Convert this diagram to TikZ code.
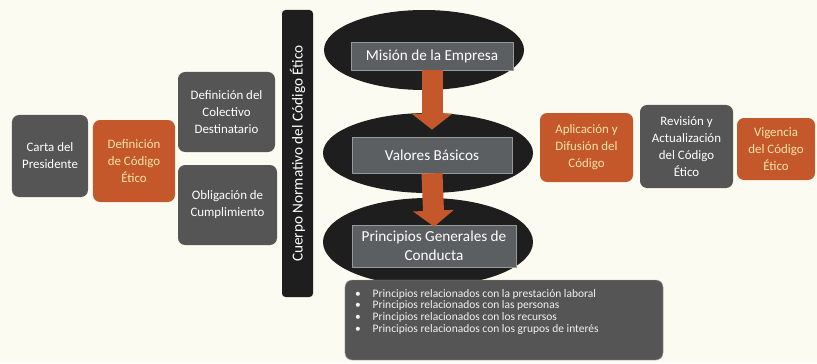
\documentclass[tikz,border=0pt]{standalone}
\usepackage{fontspec}
\setmainfont{Carlito}
\usetikzlibrary{shapes.geometric,arrows.meta}
\definecolor{fondo}{HTML}{FCFBF1}
\definecolor{gris}{HTML}{555555}
\definecolor{naranja}{HTML}{C4582A}
\definecolor{crema}{HTML}{F6E4A8}
\definecolor{negro}{HTML}{1E1E1E}
\definecolor{grisrect}{HTML}{5C5F61}
\begin{document}
\begin{tikzpicture}[x=0.03cm, y=-0.03cm, line join=round,
	caja/.style={rounded corners=6pt, align=center, inner sep=2pt, font=\fontsize{11}{14.5}\selectfont},
	cgris/.style={caja, fill=gris, text=white},
	cnar/.style={caja, fill=naranja, text=crema},
	elipse/.style={ellipse, fill=negro, inner sep=0pt},
	rect/.style={fill=grisrect, draw=gray!80, line width=0.6pt, text=white, align=center, font=\fontsize{13}{16}\selectfont},
	flecha/.style={draw=naranja, line width=0.63cm, -{Triangle[width=1.2cm, length=0.48cm]}}]
	\fill[fondo] (0,0) rectangle (817,363);
	\useasboundingbox (0,0) rectangle (817,363);
	% lado izquierdo
	\node[cgris, minimum width=2.28cm, minimum height=2.46cm] (carta) at (50,156) {Carta del\\Presidente};
	\node[cnar, minimum width=2.46cm, minimum height=2.46cm] (defcod) at (134,161) {Definición\\de Código\\Ético};
	\node[cgris, minimum width=2.91cm, minimum height=2.4cm] (colectivo) at (226.5,112) {Definición del\\Colectivo\\Destinatario};
	\node[cgris, minimum width=2.97cm, minimum height=2.4cm] (obligacion) at (227.5,205) {Obligación de\\Cumplimiento};
	\node[fill=negro, rounded corners=3pt, rotate=90, minimum width=8.61cm, minimum height=0.93cm, text=white, font=\fontsize{13}{15}\selectfont] (cuerpo) at (297.5,153.5) {Cuerpo Normativo del Código Ético};
	% centro
	\node[elipse, minimum width=6cm, minimum height=2.4cm] (e1) at (424,50) {};
	\node[elipse, minimum width=6.3cm, minimum height=2.4cm] (e2) at (428,153) {};
	\node[elipse, minimum width=6.3cm, minimum height=2.64cm] (e3) at (428,242) {};
	\node[rect, minimum width=4.86cm, minimum height=0.84cm] (mision) at (432,56) {Misión de la Empresa};
	\node[rect, minimum width=4.8cm, minimum height=1.08cm] (valores) at (432,155) {Valores Básicos};
	\node[rect, minimum width=4.92cm, minimum height=1.26cm] (principios) at (434,246) {Principios Generales de\\Conducta};
	\draw[flecha, shorten >=0.21cm] (mision.south) -- (valores.north);
	\draw[flecha, shorten >=-0.06cm] (valores.south) -- (principios.north);
	\node[fill=gris, draw=gray!70, rounded corners=6pt, minimum width=9.54cm, minimum height=2.4cm] (lista) at (504,320) {};
	\node[anchor=north west, align=left, text=white!90!gray, inner sep=0pt, font=\fontsize{9.8}{10}\selectfont] (items) at (355,289) {%
		\textbullet\hspace{10pt}Principios relacionados con la prestación laboral\\
		\textbullet\hspace{10pt}Principios relacionados con las personas\\
		\textbullet\hspace{10pt}Principios relacionados con los recursos\\
		\textbullet\hspace{10pt}Principios relacionados con los grupos de interés};
	% lado derecho
	\node[cnar, minimum width=2.79cm, minimum height=2.07cm] (aplicacion) at (586.5,147.5) {Aplicación y\\Difusión del\\Código};
	\node[cgris, minimum width=2.79cm, minimum height=2.49cm] (revision) at (686.5,146.5) {Revisión y\\Actualización\\del Código\\Ético};
	\node[cnar, minimum width=2.34cm, minimum height=1.86cm] (vigencia) at (776,149) {Vigencia\\del Código\\Ético};
\end{tikzpicture}
\end{document}
